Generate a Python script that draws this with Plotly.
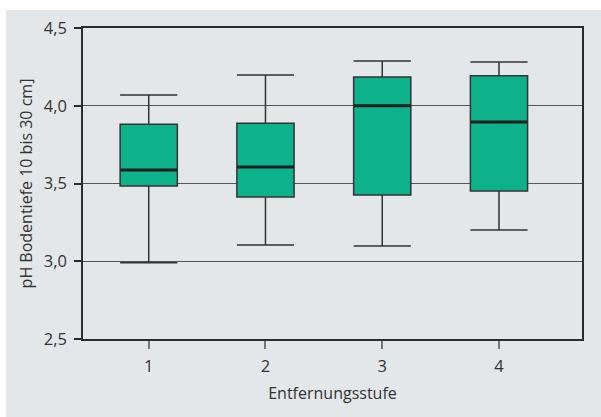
import plotly.graph_objects as go

categories = [1, 2, 3, 4]
lower_whisker = [2.99, 3.104, 3.098, 3.201]
q1_values = [3.484, 3.413, 3.426, 3.452]
median_values = [3.587, 3.606, 4.0, 3.895]
q3_values = [3.881, 3.887, 4.185, 4.193]
upper_whisker = [4.069, 4.198, 4.288, 4.281]
y_ticks = [2.5, 3.0, 3.5, 4.0, 4.5]
y_tick_labels = ["2,5", "3,0", "3,5", "4,0", "4,5"]
x_tick_labels = ["1", "2", "3", "4"]

BG = "#e4e7ea"
FILL = "#0db28a"
DARK = "#2b2b2b"
FONT = "Open Sans"

fig = go.Figure()
fig.add_trace(go.Box(
    x=categories, q1=q1_values, median=median_values, q3=q3_values,
    lowerfence=lower_whisker, upperfence=upper_whisker,
    fillcolor=FILL, line=dict(color="#333333", width=1.5),
    width=0.49, whiskerwidth=1, boxpoints=False, hoverinfo="skip",
    showlegend=False,
))
fig.add_trace(go.Scatter(
    x=categories, y=median_values, mode="markers",
    marker=dict(symbol="line-ew", size=40.5, line=dict(color="#1e1e1e", width=3)),
    showlegend=False, hoverinfo="skip",
))

L, R, T, B = 83, 19, 28, 78
W, H = 601, 417
pw, ph = W - L - R, H - T - B
fig.add_shape(type="rect", xref="paper", yref="paper",
              x0=(6 - L) / pw, x1=(W - L) / pw,
              y0=-(B) / ph, y1=(H - B - 10) / ph,
              fillcolor=BG, line=dict(width=0), layer="below")

fig.update_layout(
    width=W, height=H,
    margin=dict(l=L, r=R, t=T, b=B),
    paper_bgcolor="white", plot_bgcolor=BG,
    font=dict(family=FONT, size=14, color="#333333"),
    separators=",.",
)
fig.update_xaxes(
    range=[0.437, 4.711], tickvals=categories, ticktext=x_tick_labels,
    showgrid=False, zeroline=False,
    showline=True, linecolor=DARK, linewidth=1.5, mirror=True,
    ticks="outside", ticklen=8, tickcolor="#777777", tickwidth=1.5,
    tickfont=dict(size=16.5), ticklabelstandoff=3,
    title=dict(text="Entfernungsstufe", standoff=12, font=dict(size=16)),
)
fig.update_yaxes(
    range=[2.5, 4.5], tickvals=y_ticks, ticktext=y_tick_labels,
    showgrid=True, gridcolor="#555555", gridwidth=1, zeroline=False,
    showline=True, linecolor=DARK, linewidth=1.5, mirror=True,
    ticks="outside", ticklen=7, tickcolor=DARK, tickwidth=1.5,
    tickfont=dict(size=16.5), ticklabelstandoff=4,
    title=dict(text="pH Bodentiefe 10 bis 30 cm]", standoff=7, font=dict(size=16)),
)

fig.write_html("out.html", config={"displayModeBar": False},
               post_script="document.body.style.margin='0';document.body.style.overflow='hidden';")
